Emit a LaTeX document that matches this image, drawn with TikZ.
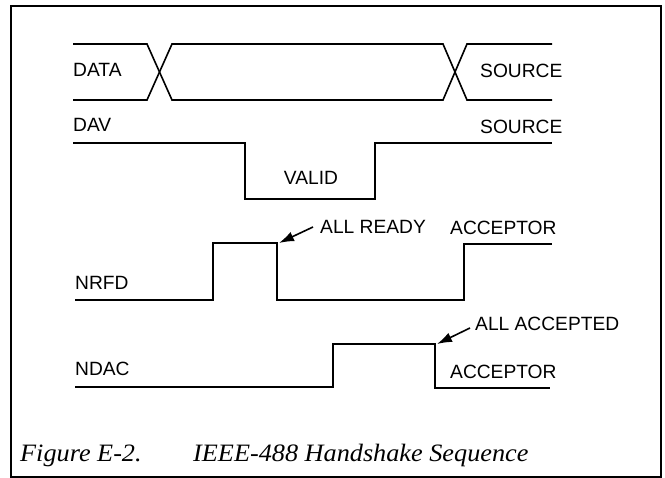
\documentclass[tikz,border=0pt]{standalone}
\usepackage{fontspec}
\setmainfont{Liberation Sans}
\newfontfamily\capfont[FakeStretch=1.05]{Liberation Serif}
\usetikzlibrary{arrows.meta}
\begin{document}
\begin{tikzpicture}[x=1pt,y=-1pt,
  sig/.style={line width=1.6pt,line join=miter},
  lbl/.style={anchor=west,inner sep=0pt,font=\fontsize{19.2}{21}\selectfont},
  ptr/.style={line width=1.6pt,-{Latex[length=15pt,width=10pt]}},
  figframe/.style={line width=1.5pt},
  captext/.style={anchor=base west,inner sep=0pt,font=\capfont\itshape\fontsize{25}{28}\selectfont}]
\useasboundingbox (0,0) rectangle (665,478);
\draw[figframe] (11,6) rectangle (661,477);
% DATA
\draw[sig] (73,44) -- (147,44) -- (172,100) -- (443,100) -- (467,44) -- (552,44);
\draw[sig] (73,100) -- (147,100) -- (172,44) -- (443,44) -- (467,100) -- (552,100);
\node[lbl] (data) at (73,70) {DATA};
\node[lbl] (src1) at (480,71) {SOURCE};
% DAV
\node[lbl] (dav) at (73,125) {DAV};
\node[lbl] (src2) at (480,127) {SOURCE};
\draw[sig] (73,143) -- (245,143) -- (245,199) -- (375,199) -- (375,143) -- (552,143);
\node[lbl,anchor=center] (valid) at (311,178) {VALID};
% NRFD
\node[lbl] (nrfd) at (75,283) {NRFD};
\node[lbl] (allready) at (320,227) {ALL READY};
\node[lbl] (acc1) at (450,228) {ACCEPTOR};
\draw[sig] (75,300) -- (213,300) -- (213,243) -- (277,243) -- (277,300) -- (464,300) -- (464,244) -- (552,244);
\coordinate (readytip) at (279,243);
\coordinate (readytail) at (313,227);
\draw[ptr] (readytail) -- (readytip);
% NDAC
\node[lbl] (ndac) at (75,369) {NDAC};
\node[lbl] (allacc) at (475,324) {ALL ACCEPTED};
\node[lbl] (acc2) at (450,372) {ACCEPTOR};
\draw[sig] (75,387) -- (333,387) -- (333,344) -- (435,344) -- (435,388) -- (550,388);
\coordinate (acctip) at (437,344);
\coordinate (acctail) at (470,328);
\draw[ptr] (acctail) -- (acctip);
% caption
\node[captext] (fig) at (20,462) {Figure E-2.};
\node[captext] (title) at (193,462) {IEEE-488 Handshake Sequence};
\end{tikzpicture}
\end{document}
